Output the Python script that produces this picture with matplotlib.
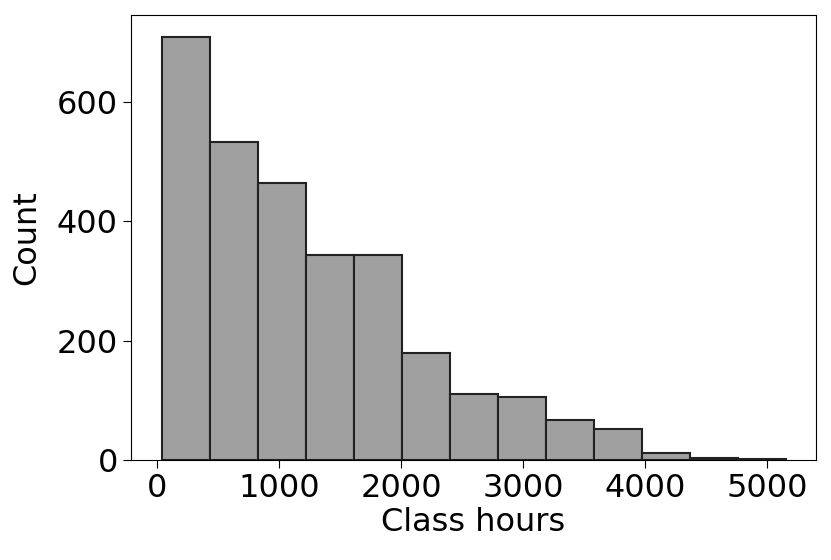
import numpy as np
import matplotlib
matplotlib.use("Agg")
import matplotlib.pyplot as plt

bin_start = 44
bin_width = 392.8
counts = [709, 532, 463, 344, 344, 179, 110, 105, 67, 52, 12, 4, 2]
xticks = [0, 1000, 2000, 3000, 4000, 5000]
yticks = [0, 200, 400, 600]

edges = bin_start + bin_width * np.arange(len(counts) + 1)
centers = (edges[:-1] + edges[1:]) / 2

fig = plt.figure(figsize=(8.31, 5.6), dpi=100)
ax = fig.add_axes([131/831, 1 - 460/560, (816-131)/831, (460-15)/560])
ax.hist(centers, bins=edges, weights=counts, color="#a0a0a0",
        edgecolor="#222222", linewidth=1.5)
ax.set_xlim(-213, 5400)
ax.set_ylim(0, 745)
ax.set_xticks(xticks)
ax.set_yticks(yticks)
ax.tick_params(labelsize=23, length=6)
ax.set_xlabel("Class hours", fontsize=23, labelpad=2)
ax.set_ylabel("Count", fontsize=23, labelpad=10)
fig.savefig("out.png", dpi=100)
